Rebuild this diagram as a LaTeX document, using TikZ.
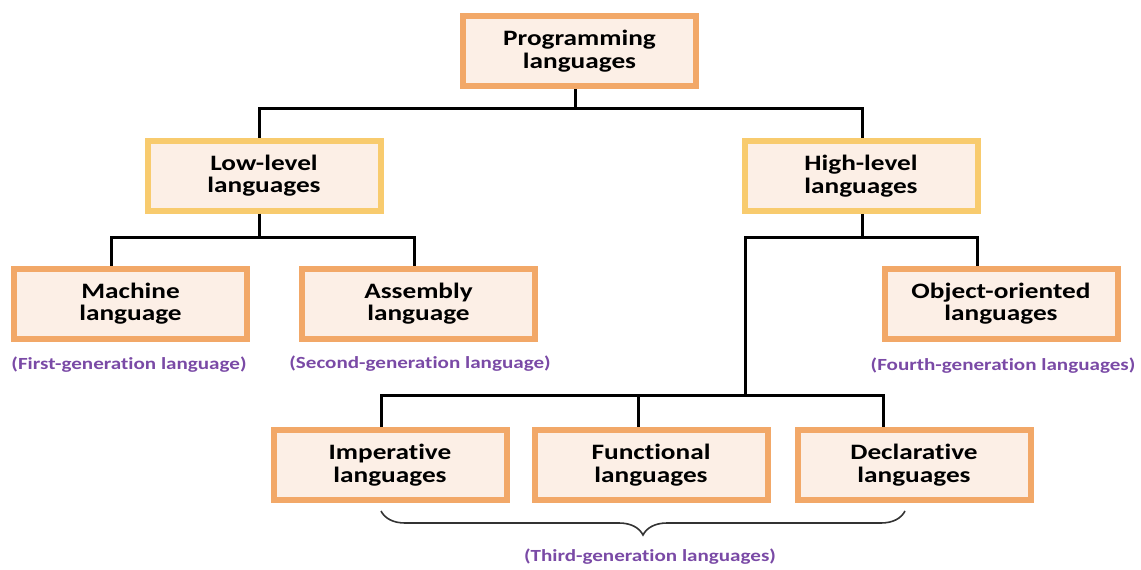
\documentclass[tikz,border=0pt]{standalone}
\usepackage{fontspec}
\setmainfont{Carlito}[FakeStretch=1.24, Ligatures=NoCommon]
\usetikzlibrary{decorations.pathreplacing}
\definecolor{boxorange}{HTML}{F2A868}
\definecolor{boxgold}{HTML}{F8CB6E}
\definecolor{boxfill}{HTML}{FCEFE6}
\definecolor{genpurple}{HTML}{7A4AA6}
\tikzset{
  langbox/.style={draw=boxorange, line width=6pt, fill=boxfill, minimum width=233pt, minimum height=70pt,
    align=center, inner sep=0pt, font=\fontsize{22}{22.5}\selectfont\bfseries},
  levelbox/.style={langbox, draw=boxgold},
  conn/.style={line width=3pt, black},
  genlabel/.style={text=genpurple, inner sep=0pt, font=\fontsize{17}{19}\selectfont\bfseries},
}
\begin{document}
\begin{tikzpicture}[x=1pt,y=-1pt]
\useasboundingbox (0,0) rectangle (1141,570);
% boxes
\node[langbox] (prog) at (579.5,51) {Programming\\languages};
\node[levelbox] (low) at (264,175.5) {Low-level\\languages};
\node[levelbox] (high) at (861,176) {High-level\\languages};
\node[langbox] (machine) at (130.5,303.5) {Machine\\language};
\node[langbox] (assembly) at (418.5,303.5) {Assembly\\language};
\node[langbox] (oo) at (1001,303.5) {Object-oriented\\languages};
\node[langbox] (imp) at (390,465) {Imperative\\languages};
\node[langbox] (fun) at (651,465) {Functional\\languages};
\node[langbox] (dec) at (914,465) {Declarative\\languages};
% labels
\node[genlabel] (l1) at (129,365) {(First-generation language)};
\node[genlabel] (l2) at (420,364) {(Second-generation language)};
\node[genlabel] (l4) at (1003,366) {(Fourth-generation languages)};
\node[genlabel] (l3) at (650,557) {(Third-generation languages)};
% junctions
\coordinate (jP) at (575,108);
\coordinate (jL) at (259,108);
\coordinate (jH) at (862,108);
\coordinate (jLc) at (259,237);
\coordinate (jLm) at (111,237);
\coordinate (jLa) at (414,237);
\coordinate (jHc) at (862,237);
\coordinate (jHl) at (745,237);
\coordinate (jHo) at (977,237);
\coordinate (jT) at (745,395);
\coordinate (jI) at (381,395);
\coordinate (jF) at (638,395);
\coordinate (jD) at (883,395);
\coordinate (brL) at (381,511);
\coordinate (brR) at (905,511);
% connectors
\draw[conn] (prog.south -| jP) -- (jP);
\draw[conn] (low.north -| jL) -- (jL) -- (jH) -- (high.north -| jH);
\draw[conn] (low.south -| jLc) -- (jLc);
\draw[conn] (machine.north -| jLm) -- (jLm) -- (jLa) -- (assembly.north -| jLa);
\draw[conn] (high.south -| jHc) -- (jHc);
\draw[conn] (jT) -- (jHl) -- (jHo) -- (oo.north -| jHo);
\draw[conn] (imp.north -| jI) -- (jI) -- (jD) -- (dec.north -| jD);
\draw[conn] (jF) -- (fun.north -| jF);
% brace
\draw[line width=1.6pt, black!80, decorate, decoration={brace, mirror, amplitude=24pt}] (brL) -- (brR);
\end{tikzpicture}
\end{document}
